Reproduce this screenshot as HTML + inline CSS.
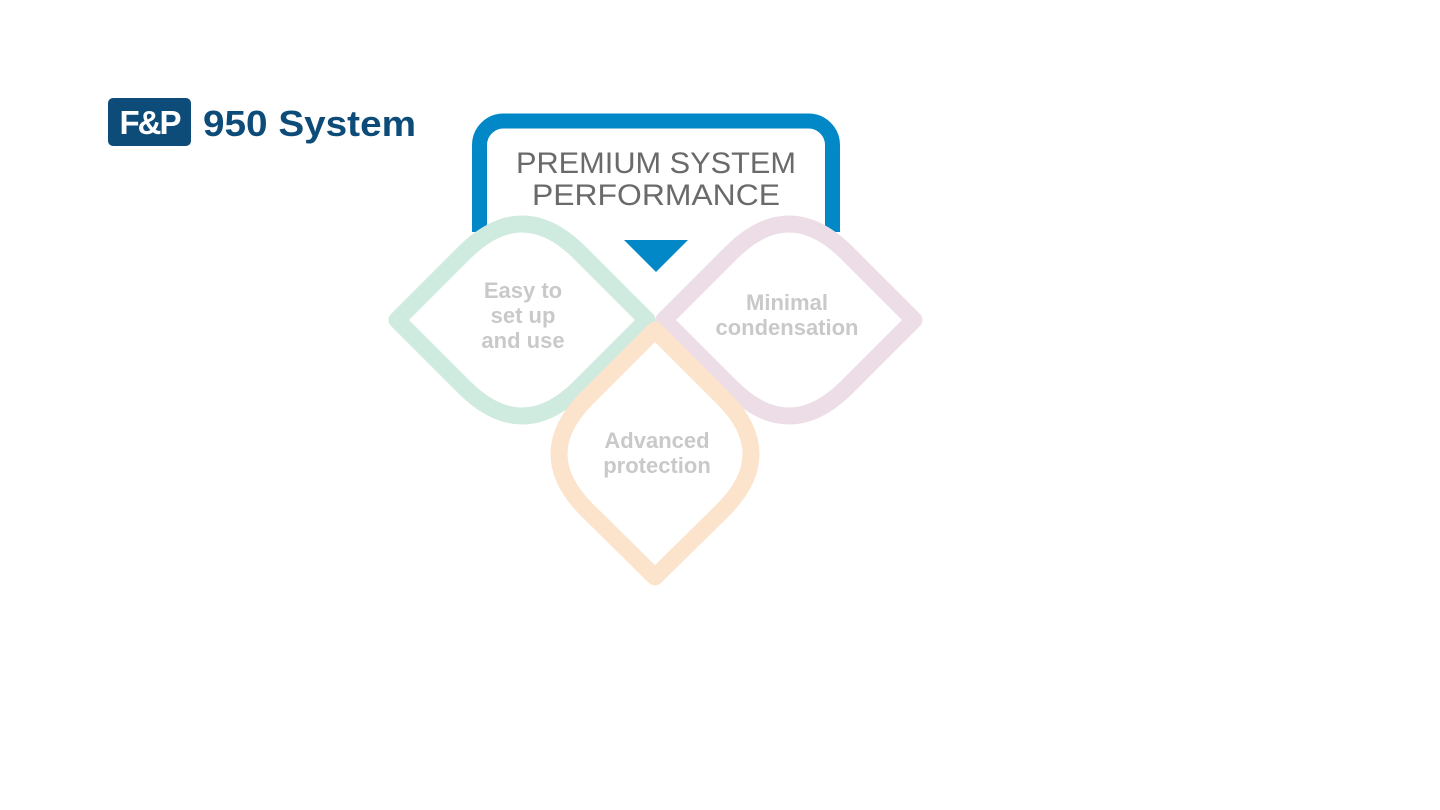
<!DOCTYPE html>
<html><head><meta charset="utf-8"><style>
html,body{margin:0;padding:0;background:#fff;width:1440px;height:810px;overflow:hidden}
</style></head><body>
<svg width="1440" height="810" viewBox="0 0 1440 810" xmlns="http://www.w3.org/2000/svg" style="font-family:'Liberation Sans',sans-serif">
<rect x="108" y="98" width="83" height="48" rx="5" fill="#0d4b78"/>
<text x="149.5" y="134" text-anchor="middle" font-size="33" font-weight="bold" fill="#fff" letter-spacing="-2">F&amp;P</text>
<text x="203" y="136" font-size="36" font-weight="bold" fill="#0d4b78" textLength="213" lengthAdjust="spacingAndGlyphs">950 System</text>

<path d="M479.5 232 V145 a24 24 0 0 1 24 -24 H808.5 a24 24 0 0 1 24 24 V232" fill="none" stroke="#0288c6" stroke-width="15"/>
<text x="656" y="173" text-anchor="middle" font-size="30" fill="#6a6a6a" font-weight="300" textLength="280" lengthAdjust="spacingAndGlyphs">PREMIUM SYSTEM</text>
<text x="656" y="205" text-anchor="middle" font-size="30" fill="#6a6a6a" font-weight="300" textLength="248" lengthAdjust="spacingAndGlyphs">PERFORMANCE</text>
<polygon points="624,240 688,240 656,272" fill="#0288c6"/>

<path d="M397 320 L464 253 Q522 195 580 253 L647 320 L580 387 Q522 445 464 387 Z" fill="none" stroke="#cfeadf" stroke-width="17" stroke-linejoin="round"/>
<path d="M664 320 L731 253 Q789 195 847 253 L914 320 L847 387 Q789 445 731 387 Z" fill="none" stroke="#ecdde6" stroke-width="17" stroke-linejoin="round"/>
<path d="M655 330 L723 398 Q779 454 723 510 L655 577 L587 510 Q531 454 587 398 Z" fill="none" stroke="#fbe3cc" stroke-width="17" stroke-linejoin="round"/>

<g font-size="22" font-weight="bold" fill="#c9c9c9" text-anchor="middle">
<text x="523" y="298">Easy to</text>
<text x="523" y="323">set up</text>
<text x="523" y="348">and use</text>
<text x="787" y="310">Minimal</text>
<text x="787" y="335">condensation</text>
<text x="657" y="448">Advanced</text>
<text x="657" y="473">protection</text>
</g>
</svg>
</body></html>
